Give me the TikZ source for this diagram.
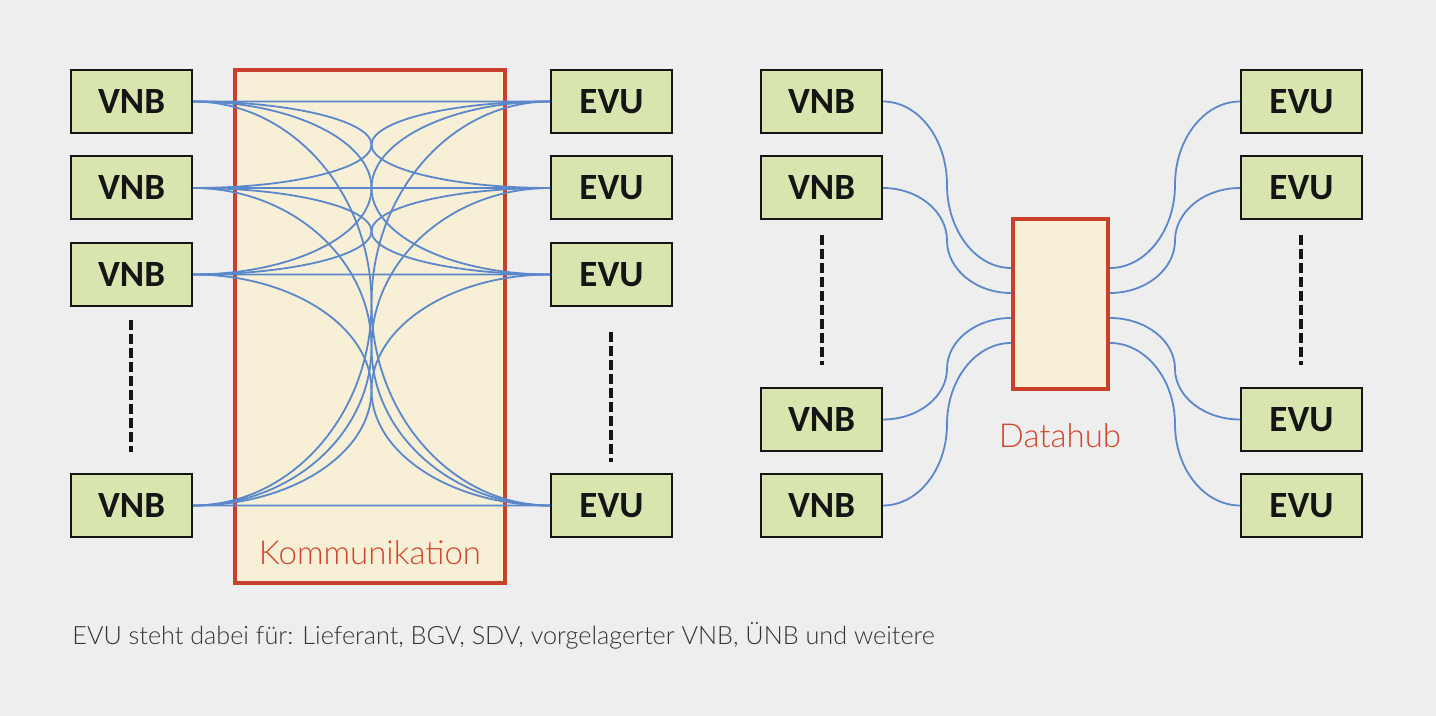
\documentclass[tikz,border=0pt]{standalone}
\usepackage{fontspec}
\usetikzlibrary{calc}
\newfontfamily\boxfont{Carlito}
\IfFontExistsTF{Lato Light}{\newfontfamily\thinfont{Lato Light}}{\newfontfamily\thinfont{Lato}}
\definecolor{bgcol}{HTML}{EEEEEE}
\definecolor{boxgreen}{HTML}{D9E5AF}
\definecolor{cream}{HTML}{F7EFD6}
\definecolor{framered}{HTML}{C8402B}
\definecolor{labelred}{HTML}{D2452B}
\definecolor{wireblue}{HTML}{5B87CB}
\definecolor{inkcol}{HTML}{151515}
\definecolor{footgray}{HTML}{333333}
\def\ctlk{0.55}
\newcommand\conn[2]{%
  \coordinate (cm) at ($(#1)!.5!(#2)$);
  \draw[wire] (#1) .. controls ($(#1)!\ctlk!(cm|-#1)$) and ($(cm)!\ctlk!(cm|-#1)$) .. (cm)
     .. controls ($(cm)!\ctlk!(cm|-#2)$) and ($(#2)!\ctlk!(cm|-#2)$) .. (#2);}
\begin{document}
\begin{tikzpicture}[x=0.5pt,y=-0.5pt,
  unit/.style={draw=inkcol, line width=1pt, fill=boxgreen, minimum width=60.5pt, minimum height=31.5pt, inner sep=0pt,
    font=\boxfont\bfseries\fontsize{18.5}{21}\selectfont, text=inkcol},
  wire/.style={draw=wireblue, line width=0.9pt},
  frame/.style={draw=framered, line width=2pt, fill=cream, inner sep=0pt},
  framelabel/.style={text=labelred, font=\thinfont\fontsize{16.5}{19}\selectfont},
  dots/.style={draw=inkcol, line width=1.6pt, dash pattern=on 5pt off 2pt}]
\fill[bgcol] (0,0) rectangle (1436,716);
\useasboundingbox (0,0) rectangle (1436,716);

% ---------- left panel ----------
\node[frame, minimum width=135pt, minimum height=256.5pt] (komm) at (370,326.5) {};
\node[framelabel] (kommlabel) at (370,553) {Kommunikation};

\node[unit] (lv1) at (131.5,101.5) {VNB};
\node[unit] (lv2) at (131.5,188) {VNB};
\node[unit] (lv3) at (131.5,274.5) {VNB};
\node[unit] (lv4) at (131.5,505.5) {VNB};
\node[unit] (le1) at (611.5,101.5) {EVU};
\node[unit] (le2) at (611.5,188) {EVU};
\node[unit] (le3) at (611.5,274.5) {EVU};
\node[unit] (le4) at (611.5,505.5) {EVU};

\foreach \i in {1,...,4}{\foreach \j in {1,...,4}{\conn{lv\i.east}{le\j.west}}}

\coordinate (ld1) at (131,320); \coordinate (ld2) at (131,452);
\coordinate (ld3) at (611,332); \coordinate (ld4) at (611,462);
\draw[dots] (ld1) -- (ld2);
\draw[dots] (ld3) -- (ld4);

% ---------- right panel ----------
\node[frame, minimum width=47.5pt, minimum height=85pt] (hub) at (1060.5,304) {};
\node[framelabel] (hublabel) at (1060,436) {Datahub};

\node[unit] (rv1) at (821.5,101.5) {VNB};
\node[unit] (rv2) at (821.5,188) {VNB};
\node[unit] (rv3) at (821.5,419.5) {VNB};
\node[unit] (rv4) at (821.5,505.5) {VNB};
\node[unit] (re1) at (1301.5,101.5) {EVU};
\node[unit] (re2) at (1301.5,188) {EVU};
\node[unit] (re3) at (1301.5,419.5) {EVU};
\node[unit] (re4) at (1301.5,505.5) {EVU};

\coordinate (hw1) at (hub.west |- 0,268);
\coordinate (hw2) at (hub.west |- 0,293);
\coordinate (hw3) at (hub.west |- 0,318);
\coordinate (hw4) at (hub.west |- 0,343);
\coordinate (he1) at (hub.east |- 0,268);
\coordinate (he2) at (hub.east |- 0,293);
\coordinate (he3) at (hub.east |- 0,318);
\coordinate (he4) at (hub.east |- 0,343);

\foreach \i in {1,...,4}{\conn{rv\i.east}{hw\i}\conn{he\i}{re\i.west}}

\coordinate (rd1) at (822,235); \coordinate (rd2) at (822,365);
\coordinate (rd3) at (1301,235); \coordinate (rd4) at (1301,365);
\draw[dots] (rd1) -- (rd2);
\draw[dots] (rd3) -- (rd4);

% ---------- footnote ----------
\node[anchor=west, inner sep=0pt, text=footgray, font=\thinfont\fontsize{12.6}{15}\selectfont] (foot) at (72,636)
  {EVU steht dabei für: Lieferant, BGV, SDV, vorgelagerter VNB, ÜNB und weitere};
\end{tikzpicture}
\end{document}
